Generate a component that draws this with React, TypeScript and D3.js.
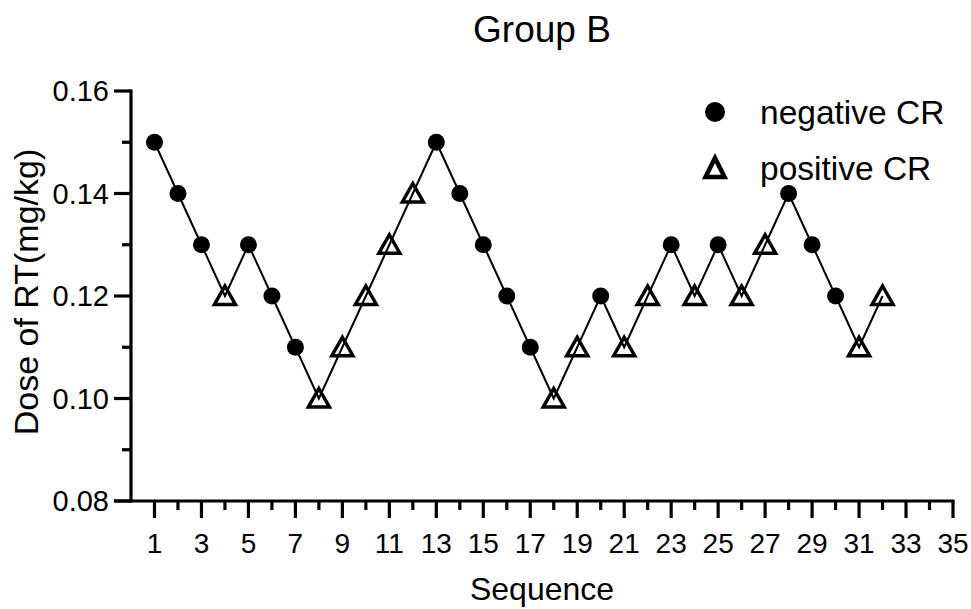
import * as d3 from 'd3';
import { useEffect, useRef } from 'react';

// Данные: номер попытки, доза и реакция
const sequence = [1, 2, 3, 4, 5, 6, 7, 8, 9, 10, 11, 12, 13, 14, 15, 16, 17, 18, 19, 20, 21, 22, 23, 24, 25, 26, 27, 28, 29, 30, 31, 32];
const dose = [0.15, 0.14, 0.13, 0.12, 0.13, 0.12, 0.11, 0.10, 0.11, 0.12, 0.13, 0.14, 0.15, 0.14, 0.13, 0.12, 0.11, 0.10, 0.11, 0.12, 0.11, 0.12, 0.13, 0.12, 0.13, 0.12, 0.13, 0.14, 0.13, 0.12, 0.11, 0.12];
// 'n' - negative CR, 'p' - positive CR
const response = ['n', 'n', 'n', 'p', 'n', 'n', 'n', 'p', 'p', 'p', 'p', 'p', 'n', 'n', 'n', 'n', 'n', 'p', 'p', 'n', 'p', 'p', 'n', 'p', 'n', 'p', 'p', 'n', 'n', 'n', 'p', 'p'];

const xMajorTicks = [1, 3, 5, 7, 9, 11, 13, 15, 17, 19, 21, 23, 25, 27, 29, 31, 33, 35];
const xMinorTicks = [2, 4, 6, 8, 10, 12, 14, 16, 18, 20, 22, 24, 26, 28, 30, 32, 34];
const yMajorTicks = [0.08, 0.10, 0.12, 0.14, 0.16];
const yMinorTicks = [0.09, 0.11, 0.13, 0.15];

const legendItems = [
  { key: 'n', label: 'negative CR' },
  { key: 'p', label: 'positive CR' },
];

const FONT = '"Liberation Sans", Arial, sans-serif';

const App = () => {
  const ref = useRef<SVGSVGElement | null>(null);
  const width = 971;
  const height = 609;
  const margin = { top: 91, bottom: 108, left: 131, right: 18 };

  useEffect(() => {
    const svg = d3.select(ref.current);
    svg.selectAll('*').remove();

    const x = d3.scaleLinear().domain([0, 35]).range([margin.left, width - margin.right]);
    const y = d3.scaleLinear().domain([0.08, 0.16]).range([height - margin.bottom, margin.top]);

    svg.append('rect').attr('width', width).attr('height', height).attr('fill', '#fff');

    // Заголовок
    svg.append('text')
      .attr('x', 542).attr('y', 42)
      .attr('text-anchor', 'middle')
      .style('font-family', FONT).style('font-size', '37px')
      .text('Group B');

    // Оси
    const axis = svg.append('g').attr('stroke', '#000').attr('stroke-width', 3.2).attr('fill', 'none');
    const y0 = y(0.08);
    axis.append('line')
      .attr('x1', x(0)).attr('x2', x(0))
      .attr('y1', y(0.16) - 1.6).attr('y2', y0 + 1.6);
    axis.append('line')
      .attr('x1', x(0) - 17).attr('x2', x(35) + 1.6)
      .attr('y1', y0).attr('y2', y0);

    xMajorTicks.forEach(t => {
      axis.append('line').attr('x1', x(t)).attr('x2', x(t)).attr('y1', y0).attr('y2', y0 + 17);
    });
    xMinorTicks.forEach(t => {
      axis.append('line').attr('x1', x(t)).attr('x2', x(t)).attr('y1', y0).attr('y2', y0 + 9);
    });
    yMajorTicks.forEach(t => {
      axis.append('line').attr('x1', x(0) - 17).attr('x2', x(0)).attr('y1', y(t)).attr('y2', y(t));
    });
    yMinorTicks.forEach(t => {
      axis.append('line').attr('x1', x(0) - 9).attr('x2', x(0)).attr('y1', y(t)).attr('y2', y(t));
    });

    // Подписи делений
    svg.append('g').selectAll('text')
      .data(xMajorTicks).enter().append('text')
      .attr('x', d => x(d)).attr('y', y0 + 52)
      .attr('text-anchor', 'middle')
      .style('font-family', FONT).style('font-size', '28px')
      .text(d => String(d));

    svg.append('g').selectAll('text')
      .data(yMajorTicks).enter().append('text')
      .attr('x', x(0) - 22).attr('y', d => y(d) + 10)
      .attr('text-anchor', 'end')
      .style('font-family', FONT).style('font-size', '29px')
      .text(d => d3.format('.2f')(d));

    // Названия осей
    svg.append('text')
      .attr('x', 542).attr('y', 600)
      .attr('text-anchor', 'middle')
      .style('font-family', FONT).style('font-size', '32px')
      .text('Sequence');

    svg.append('text')
      .attr('transform', `translate(38, ${(y(0.08) + y(0.16)) / 2 - 4}) rotate(-90)`)
      .attr('text-anchor', 'middle')
      .style('font-family', FONT).style('font-size', '34px')
      .text('Dose of RT(mg/kg)');

    // Линия
    const line = d3.line<number>()
      .x((_, i) => x(sequence[i]))
      .y(d => y(d));
    svg.append('path')
      .datum(dose)
      .attr('d', line)
      .attr('fill', 'none')
      .attr('stroke', '#000')
      .attr('stroke-width', 2);

    // Маркеры
    const triangle = 'M0,-10L10.5,8.5L-10.5,8.5Z';
    const points = sequence.map((s, i) => ({ s, v: dose[i], r: response[i] }));

    svg.append('g').selectAll('circle')
      .data(points.filter(p => p.r === 'n')).enter().append('circle')
      .attr('cx', d => x(d.s)).attr('cy', d => y(d.v))
      .attr('r', 8.5)
      .attr('fill', '#000');

    svg.append('g').selectAll('path')
      .data(points.filter(p => p.r === 'p')).enter().append('path')
      .attr('d', triangle)
      .attr('transform', d => `translate(${x(d.s)}, ${y(d.v)})`)
      .attr('fill', 'none')
      .attr('stroke', '#000')
      .attr('stroke-width', 3.5);

    // Легенда
    const legend = svg.append('g');
    legendItems.forEach((item, i) => {
      const cy = 112 + i * 56;
      if (item.key === 'n') {
        legend.append('circle').attr('cx', 715).attr('cy', cy).attr('r', 10).attr('fill', '#000');
      } else {
        legend.append('path')
          .attr('d', 'M0,-10L9.5,9L-9.5,9Z')
          .attr('transform', `translate(715, ${cy})`)
          .attr('fill', 'none').attr('stroke', '#000').attr('stroke-width', 4.5);
      }
      legend.append('text')
        .attr('x', 760).attr('y', cy + 12)
        .style('font-family', FONT).style('font-size', '33.5px')
        .text(item.label);
    });
  }, []);

  return (
    <svg ref={ref} width={width} height={height}
      style={{ position: 'absolute', left: 0, top: 0, display: 'block' }}></svg>
  );
};

export default App;
